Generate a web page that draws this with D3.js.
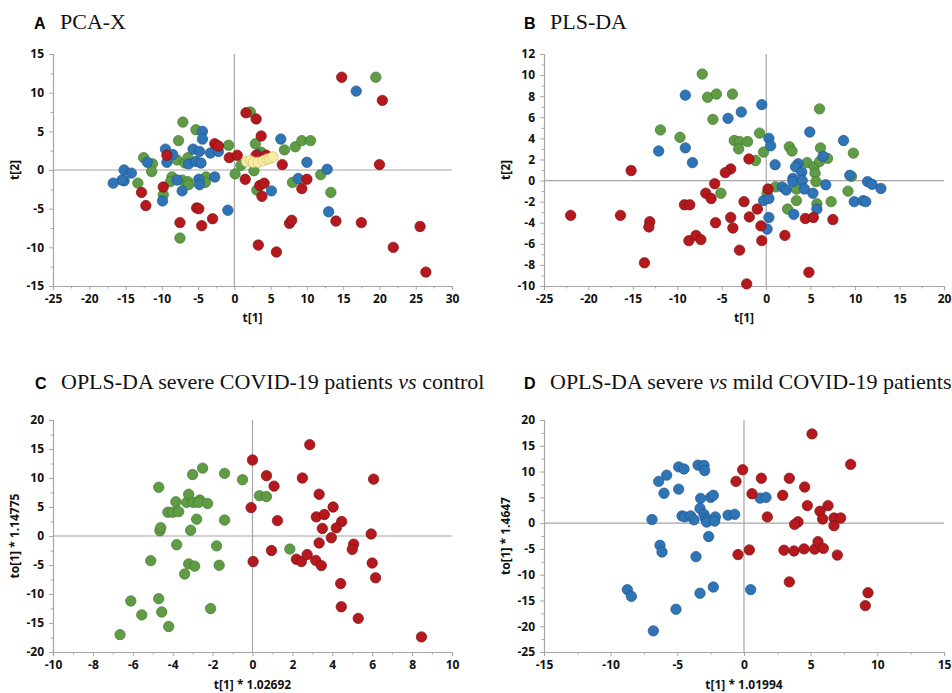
<!DOCTYPE html>
<html>
<head>
<meta charset="utf-8">
<script src="https://cdn.jsdelivr.net/npm/d3@7"></script>
<style>
  html, body { margin: 0; padding: 0; background: #fff; }
  svg { display: block; }
</style>
</head>
<body>
<svg id="chart" width="952" height="693"></svg>
<script>
// ---------- DATA ----------
// Panel A: PCA-X  [t1, t2]
const pcaGreen = [[19.5,12.0],[2.2,7.5],[-7.1,6.2],[-5.3,5.2],[-7.7,3.8],[-0.8,3.2],[2.9,3.4],[3.7,2.3],[6.9,2.6],[8.4,3.0],[9.3,3.8],[10.5,3.8],[-12.5,1.6],[-11.3,0.8],[-11.4,-0.2],[-7.9,1.3],[-6.8,0.9],[-6.4,1.6],[0.9,0.6],[0.1,-0.5],[2.7,-0.1],[-13.3,-1.7],[-8.6,-0.9],[-8.8,-1.5],[-7.2,-1.3],[-6.4,-1.5],[-6.3,-1.9],[-3.9,-0.9],[-4.0,-1.6],[-9.8,-3.2],[3.1,-2.6],[8.0,-1.6],[11.9,-0.6],[13.3,-2.9],[-7.5,-8.8]];
const pcaBlue = [[16.8,10.2],[-4.4,5.0],[-4.4,4.0],[6.4,4.0],[-9.5,2.7],[-5.7,2.7],[-8.5,2.0],[-4.8,2.4],[-3.3,2.2],[-2.2,2.4],[-9.3,1.0],[-12.0,1.0],[-6.3,0.8],[-5.3,1.1],[-4.6,0.9],[-15.2,0.0],[-14.2,-0.4],[-15.2,-1.4],[-15.5,-1.3],[-16.7,-1.7],[-7.9,-1.3],[-4.9,-1.2],[-4.8,-1.9],[-2.7,-0.9],[-7.2,-2.7],[-9.9,-4.0],[-0.9,-5.2],[3.2,2.0],[5.1,-2.7],[10.0,1.0],[8.8,-1.1],[12.8,0.1],[13.0,-5.4]];
const pcaRed = [[14.8,12.0],[20.4,9.0],[20.0,0.7],[1.6,7.4],[3.0,6.6],[3.7,4.4],[-2.7,3.4],[-2.2,3.1],[-9.3,1.9],[-0.7,1.6],[0.4,1.9],[3.0,1.9],[4.4,1.9],[6.6,0.7],[1.5,-1.2],[3.5,-2.0],[4.1,-1.7],[3.8,-3.4],[10.0,-1.2],[9.3,-2.4],[-9.8,-2.2],[-12.8,-2.9],[-12.2,-4.6],[-5.2,-4.9],[-4.9,-5.0],[-3.0,-6.3],[-7.5,-6.8],[-4.5,-7.2],[7.6,-6.9],[7.9,-6.5],[14.0,-6.6],[17.5,-6.8],[25.6,-7.3],[3.3,-9.7],[5.8,-10.6],[21.9,-10.0],[26.4,-13.2]];
const pcaQC = [[1.7,1.1],[2.2,1.2],[2.6,1.0],[3.3,1.0],[4.0,1.2],[4.5,1.4],[4.9,1.5],[5.3,1.7]];

// Panel B: PLS-DA  [t1, t2]
const plsGreen = [[-7.2,10.1],[-6.6,7.9],[-5.6,8.2],[-3.8,8.2],[-6.0,5.8],[-11.9,4.8],[-9.7,4.1],[-3.6,3.8],[-3.0,3.7],[-2.1,3.7],[-3.1,3.0],[-0.75,4.5],[-0.3,2.7],[-1.2,1.9],[2.6,3.2],[2.9,2.8],[6.0,6.8],[6.1,3.1],[6.9,2.1],[9.8,2.6],[4.6,1.7],[5.4,1.3],[5.5,0.7],[6.0,1.8],[5.6,-0.1],[9.6,0.4],[1.05,-0.6],[0.1,-1.2],[-5.1,-1.2],[3.4,-0.8],[3.4,-1.9],[2.4,-2.7],[5.7,-2.2],[7.3,-2.0],[9.2,-1.0]];
const plsBlue = [[-9.1,8.1],[-0.5,7.2],[-2.8,6.5],[-4.3,5.9],[4.9,4.6],[8.7,3.8],[0.3,4.0],[0.5,3.3],[-9.1,3.1],[-12.1,2.8],[-8.3,1.7],[1.0,1.5],[3.6,1.6],[3.3,1.3],[4.0,0.8],[3.0,0.2],[3.0,-0.1],[4.05,0.0],[6.4,2.3],[6.7,-0.4],[9.4,0.5],[1.8,-0.6],[2.25,-0.9],[4.3,-0.8],[5.25,-1.2],[11.4,-0.1],[11.9,-0.35],[12.9,-0.75],[9.9,-2.0],[10.9,-1.9],[11.2,-2.0],[-0.3,-1.9],[0.3,-1.7],[3.1,-3.2],[5.7,-2.7],[0.3,-3.5],[0.1,-4.6]];
const plsRed = [[-15.2,0.95],[-1.95,2.05],[-4.0,1.1],[-4.6,0.75],[-5.8,-0.3],[-6.8,-1.2],[-6.2,-1.7],[-9.2,-2.3],[-8.6,-2.3],[-2.5,-2.0],[-1.0,-2.7],[0.2,-0.8],[-22.0,-3.3],[-16.4,-3.3],[-13.1,-3.9],[-13.2,-4.4],[-5.7,-4.0],[-4.0,-3.5],[-3.75,-4.5],[-1.9,-3.45],[-0.6,-4.3],[-8.7,-5.7],[-7.9,-5.2],[-7.35,-5.6],[-0.5,-5.7],[-3.0,-6.6],[2.1,-5.2],[4.4,-3.6],[5.3,-3.5],[7.5,-3.7],[-13.7,-7.8],[4.8,-8.7],[-2.2,-9.8]];

// Panel C: OPLS-DA severe vs control  [t1*1.02692, to1*1.14775]
const oplsCGreen = [[-6.64,-17.0],[-6.1,-11.2],[-5.55,-13.6],[-4.7,-10.8],[-4.55,-13.1],[-4.2,-15.6],[-2.1,-12.5],[-5.1,-4.25],[-3.4,-6.55],[-3.2,-4.8],[-2.9,-5.2],[-1.67,-5.05],[-1.8,-1.7],[-3.8,-1.5],[-4.7,8.4],[-4.64,0.9],[-4.6,1.45],[-4.24,4.1],[-4.0,4.1],[-3.7,4.2],[-3.84,5.9],[-3.3,5.8],[-3.2,7.2],[-2.97,5.8],[-2.64,6.2],[-2.7,5.8],[-2.25,5.6],[-2.8,2.9],[-3.1,1.0],[-3.0,10.6],[-2.5,11.7],[-1.4,10.8],[-1.4,2.75],[-0.5,9.7],[0.35,6.95],[0.7,6.8],[1.87,-2.25]];
const oplsCRed = [[2.87,15.75],[0.0,13.1],[0.7,10.4],[1.08,8.6],[2.5,10.0],[6.07,9.8],[3.34,7.2],[4.04,5.0],[-0.07,4.9],[3.2,3.3],[3.6,3.7],[4.47,2.5],[4.2,1.4],[3.5,1.3],[1.25,2.65],[3.95,-0.3],[3.34,-1.2],[5.95,0.35],[5.07,-1.4],[5.0,-2.3],[0.95,-2.5],[0.03,-4.4],[2.2,-4.0],[2.45,-4.4],[2.74,-3.2],[3.17,-4.2],[3.45,-5.1],[6.0,-4.65],[6.17,-7.2],[4.42,-8.2],[4.45,-12.2],[5.3,-14.2],[8.47,-17.4]];

// Panel D: OPLS-DA severe vs mild  [t1*1.01994, to1*1.4647]
const oplsDBlue = [[-4.9,10.9],[-4.5,10.5],[-3.45,11.25],[-3.0,11.2],[-2.95,10.2],[-5.8,9.3],[-6.4,8.1],[-6.0,5.8],[-4.9,6.6],[-3.25,4.8],[-2.5,5.0],[-2.3,5.4],[-3.3,2.85],[-3.0,1.7],[-4.65,1.4],[-4.45,1.2],[-4.0,1.4],[-3.75,0.65],[-2.9,0.9],[-2.75,0.6],[-2.8,0.2],[-2.15,1.2],[-2.2,0.4],[-1.2,1.55],[-0.7,1.7],[-6.9,0.7],[-2.65,-2.6],[-6.3,-4.3],[-6.15,-5.6],[-3.6,-6.5],[1.2,4.85],[1.65,5.0],[-8.75,-12.9],[-8.45,-14.2],[-3.3,-13.6],[-2.3,-12.4],[-5.1,-16.7],[-6.8,-20.9],[0.5,-12.9]];
const oplsDRed = [[5.1,17.3],[8.0,11.4],[-0.1,10.35],[1.3,8.7],[3.4,8.7],[-0.6,8.1],[4.55,7.0],[0.6,5.7],[2.9,5.4],[4.75,3.4],[6.3,3.4],[5.7,2.3],[1.75,1.2],[5.9,0.8],[6.75,1.0],[7.25,1.0],[6.75,-0.5],[4.05,0.25],[3.8,-0.25],[-0.45,-6.1],[0.4,-5.2],[3.0,-5.25],[3.75,-5.4],[4.5,-5.0],[5.3,-5.05],[5.55,-3.6],[5.95,-4.9],[7.0,-6.2],[3.4,-11.4],[9.3,-13.5],[9.1,-16.0]];

// Tick values
const ticksAx = [-25,-20,-15,-10,-5,0,5,10,15,20,25,30];
const ticksAy = [-15,-10,-5,0,5,10,15];
const ticksBx = [-25,-20,-15,-10,-5,0,5,10,15,20];
const ticksBy = [-10,-8,-6,-4,-2,0,2,4,6,8,10,12];
const ticksCx = [-10,-8,-6,-4,-2,0,2,4,6,8,10];
const ticksCy = [-20,-15,-10,-5,0,5,10,15,20];
const ticksDx = [-15,-10,-5,0,5,10,15];
const ticksDy = [-25,-20,-15,-10,-5,0,5,10,15,20];

// Titles and labels
const panelLetters = ["A","B","C","D"];
const panelTitles = ["PCA-X","PLS-DA",
  ["OPLS-DA severe COVID-19 patients ", "vs", " control"],
  ["OPLS-DA severe ", "vs", " mild COVID-19 patients"]];
const xTitles = ["t[1]","t[1]","t[1] * 1.02692","t[1] * 1.01994"];
const yTitles = ["t[2]","t[2]","to[1] * 1.14775","to[1] * 1.4647"];

// ---------- STYLE ----------
const COLORS = {
  green: {fill:"#5f9c45", stroke:"#3f7a2c"},
  blue:  {fill:"#2f74b5", stroke:"#1f5590"},
  red:   {fill:"#b5191d", stroke:"#7e1010"},
  qc:    {fill:"#f7eda3", stroke:"#cdbd72"}
};

const panels = [
  {letter:0, box:{x0:53, x1:452, y0:54, y1:286}, xd:[-25,30], yd:[-15,15], xt:ticksAx, yt:ticksAy,
   series:[["green",pcaGreen],["blue",pcaBlue],["red",pcaRed],["qc",pcaQC]],
   titleX:34, titleY:29, yTitleX:15, xTitleY:322},
  {letter:1, box:{x0:544, x1:944, y0:54, y1:286}, xd:[-25,20], yd:[-10,12], xt:ticksBx, yt:ticksBy,
   series:[["green",plsGreen],["blue",plsBlue],["red",plsRed]],
   titleX:524, titleY:29, yTitleX:506, xTitleY:322},
  {letter:2, box:{x0:53, x1:452, y0:420, y1:652}, xd:[-10,10], yd:[-20,20], xt:ticksCx, yt:ticksCy,
   series:[["green",oplsCGreen],["red",oplsCRed]],
   titleX:35, titleY:389, yTitleX:15, xTitleY:689},
  {letter:3, box:{x0:544, x1:944, y0:420, y1:652}, xd:[-15,15], yd:[-25,20], xt:ticksDx, yt:ticksDy,
   series:[["blue",oplsDBlue],["red",oplsDRed]],
   titleX:524, titleY:389, yTitleX:506, xTitleY:689}
];

const svg = d3.select("#chart");
const AXIS_COLOR = "#a6a6a6";
const TICK_FONT = "'Open Sans', 'DejaVu Sans', sans-serif";
const fmt = d => String(d);

panels.forEach((p, i) => {
  const g = svg.append("g");
  const x = d3.scaleLinear().domain(p.xd).range([p.box.x0, p.box.x1]);
  const y = d3.scaleLinear().domain(p.yd).range([p.box.y1, p.box.y0]);

  const minorX = p.xt.slice(0,-1).map((v,k)=> (v + p.xt[k+1]) / 2);
  const minorY = p.yt.slice(0,-1).map((v,k)=> (v + p.yt[k+1]) / 2);

  // zero lines
  g.append("line").attr("x1", x(0)).attr("x2", x(0)).attr("y1", p.box.y0).attr("y2", p.box.y1)
    .attr("stroke", AXIS_COLOR).attr("stroke-width", 1.2);
  g.append("line").attr("x1", p.box.x0).attr("x2", p.box.x1).attr("y1", y(0)).attr("y2", y(0))
    .attr("stroke", AXIS_COLOR).attr("stroke-width", 1.2);

  const xAxis = d3.axisBottom(x).tickValues(p.xt).tickSize(4).tickPadding(3).tickFormat(fmt);
  const xMinor = d3.axisBottom(x).tickValues(minorX).tickSize(2.5).tickFormat("");
  const yAxis = d3.axisLeft(y).tickValues(p.yt).tickSize(4).tickPadding(5).tickFormat(fmt);
  const yMinor = d3.axisLeft(y).tickValues(minorY).tickSize(2.5).tickFormat("");

  const gx = g.append("g").attr("transform", `translate(0,${p.box.y1})`).call(xAxis);
  g.append("g").attr("transform", `translate(0,${p.box.y1})`).call(xMinor).select(".domain").remove();
  g.append("g").attr("transform", `translate(${p.box.x0},0)`).call(yAxis);
  g.append("g").attr("transform", `translate(${p.box.x0},0)`).call(yMinor).select(".domain").remove();

  g.selectAll(".domain").attr("stroke", AXIS_COLOR).attr("stroke-width", 1.2);
  g.selectAll(".tick line").attr("stroke", AXIS_COLOR);
  g.selectAll(".tick text").attr("font-family", TICK_FONT).attr("font-weight", "bold")
    .attr("font-size", 12).attr("fill", "#111");
  gx.selectAll(".tick text").attr("dy", "0.85em");

  p.series.forEach(([key, data]) => {
    g.append("g").selectAll("circle").data(data).join("circle")
      .attr("cx", d => x(d[0])).attr("cy", d => y(d[1])).attr("r", 5.2)
      .attr("fill", COLORS[key].fill).attr("stroke", COLORS[key].stroke).attr("stroke-width", 0.7);
  });

  g.append("text").attr("x", (p.box.x0 + p.box.x1) / 2).attr("y", p.xTitleY)
    .attr("text-anchor", "middle").attr("font-family", TICK_FONT).attr("font-weight", "bold")
    .attr("font-size", 12).attr("fill", "#111").text(xTitles[i]);
  g.append("text").attr("transform", `translate(${p.yTitleX},${(p.box.y0 + p.box.y1)/2}) rotate(-90)`)
    .attr("text-anchor", "middle").attr("dy", "0.35em").attr("font-family", TICK_FONT).attr("font-weight", "bold")
    .attr("font-size", 12).attr("fill", "#111").text(yTitles[i]);

  g.append("text").attr("x", p.titleX).attr("y", p.titleY)
    .attr("font-family", "'Liberation Sans', Arial, sans-serif").attr("font-weight", "bold")
    .attr("font-size", 16).attr("fill", "#000").text(panelLetters[p.letter]);
  const t = g.append("text").attr("x", p.titleX + 26).attr("y", p.titleY)
    .attr("font-family", "'Liberation Serif', 'Times New Roman', serif")
    .attr("font-size", 22).attr("fill", "#111");
  const parts = Array.isArray(panelTitles[i]) ? panelTitles[i] : [panelTitles[i]];
  parts.forEach((s, k) => {
    t.append("tspan").attr("font-style", (parts.length === 3 && k === 1) ? "italic" : "normal").text(s);
  });
});
</script>
</body>
</html>
